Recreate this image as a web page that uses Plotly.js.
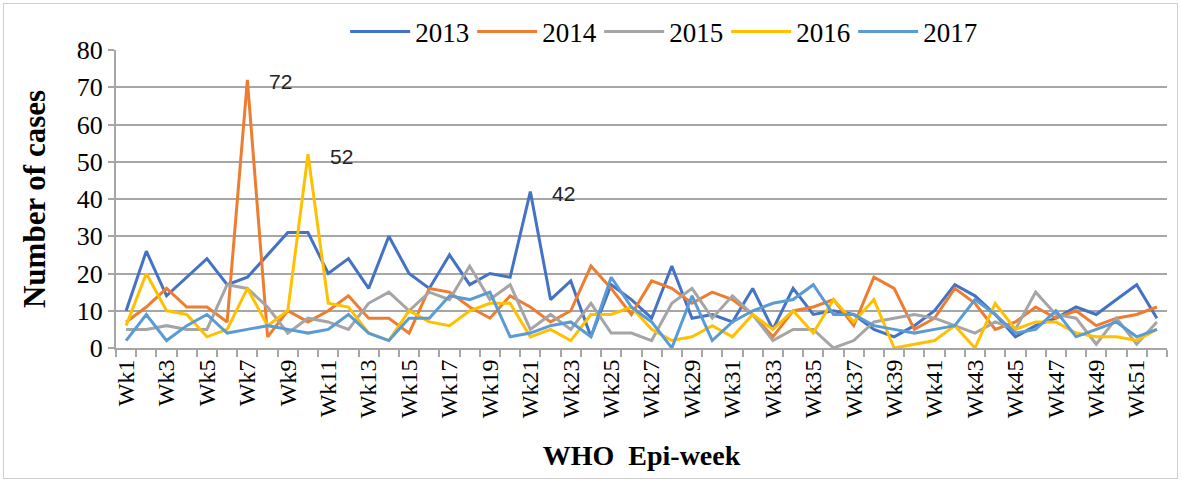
<!DOCTYPE html>
<html>
<head>
<meta charset="utf-8">
<script src="https://cdn.plot.ly/plotly-3.0.1.min.js"></script>
<style>
  html, body { margin: 0; padding: 0; background: #fff; }
  #wrap { position: relative; width: 1182px; height: 484px; }
  #chart { width: 1182px; height: 484px; }
  #frame { position: absolute; left: 3px; top: 3px; width: 1173px; height: 474px;
           border: 1.5px solid #cfcfcf; pointer-events: none; }
</style>
</head>
<body>
<div id="wrap">
  <div id="chart"></div>
  <div id="frame"></div>
</div>
<script>
const weeks = ['Wk1','Wk2','Wk3','Wk4','Wk5','Wk6','Wk7','Wk8','Wk9','Wk10',
  'Wk11','Wk12','Wk13','Wk14','Wk15','Wk16','Wk17','Wk18','Wk19','Wk20',
  'Wk21','Wk22','Wk23','Wk24','Wk25','Wk26','Wk27','Wk28','Wk29','Wk30',
  'Wk31','Wk32','Wk33','Wk34','Wk35','Wk36','Wk37','Wk38','Wk39','Wk40',
  'Wk41','Wk42','Wk43','Wk44','Wk45','Wk46','Wk47','Wk48','Wk49','Wk50',
  'Wk51','Wk52'];

const y2013 = [10,26,14,19,24,17,19,25,31,31,20,24,16,30,20,16,25,17,20,19,42,13,18,3,17,13,8,22,8,9,7,16,5,16,9,10,9,5,3,6,10,17,14,9,3,6,8,11,9,13,17,8];
const y2014 = [7,11,16,11,11,7,72,3,10,7,10,14,8,8,4,16,15,11,8,14,11,7,10,22,16,9,18,16,12,15,13,9,3,10,11,13,6,19,16,5,8,16,12,5,7,11,8,10,6,8,9,11];
const y2015 = [5,5,6,5,5,17,16,11,4,8,7,5,12,15,10,15,13,22,13,17,5,9,5,12,4,4,2,12,16,8,14,9,2,5,5,0,2,7,8,9,8,6,4,7,5,15,9,8,1,8,1,7];
const y2016 = [6,20,10,9,3,5,16,6,10,52,12,11,4,2,10,7,6,10,12,12,3,5,2,9,9,11,5,2,3,6,3,9,5,10,4,13,7,13,0,1,2,6,0,12,5,7,7,4,3,3,2,5];
const y2017 = [2,9,2,6,9,4,5,6,5,4,5,9,4,2,8,8,14,13,15,3,4,6,7,3,19,11,7,0,14,2,7,10,12,13,17,9,9,6,5,4,5,6,13,9,4,5,10,3,5,7,3,5];

const seriesNames = ['2013','2014','2015','2016','2017'];
const seriesData = [y2013, y2014, y2015, y2016, y2017];
const seriesColors = ['#4472C4','#ED7D31','#A5A5A5','#FFC000','#5B9BD5'];

// series whose peak carries a value label
const labelledSeries = [1, 3, 0];

const tickLabels = weeks.map((w, i) => (i % 2 === 0 ? w : ''));

const traces = seriesData.map((d, i) => ({
  type: 'scatter',
  mode: 'lines',
  name: seriesNames[i],
  x: weeks,
  y: d,
  line: { color: seriesColors[i], width: 3 },
  hoverinfo: 'x+y+name'
}));

const annotations = labelledSeries.map(si => {
  const d = seriesData[si];
  const m = Math.max(...d);
  const idx = d.indexOf(m);
  return {
    x: weeks[idx], y: m, xref: 'x', yref: 'y',
    text: String(m), showarrow: false,
    xanchor: 'left', yanchor: 'middle', xshift: 20, yshift: -2,
    font: { family: 'Liberation Sans, Arial, sans-serif', size: 21, color: '#222' }
  };
});

const serif = 'Liberation Serif, Times New Roman, serif';

const layout = {
  width: 1182, height: 484,
  margin: { l: 116, r: 15, t: 50, b: 136, autoexpand: false },
  paper_bgcolor: '#ffffff',
  plot_bgcolor: '#ffffff',
  showlegend: true,
  legend: {
    orientation: 'h',
    xref: 'container', yref: 'container',
    x: 0.292, xanchor: 'left', y: 0.934, yanchor: 'middle',
    font: { family: serif, size: 27, color: '#000' },
    entrywidth: 52, entrywidthmode: 'pixels',
    itemwidth: 60, tracegroupgap: 0
  },
  xaxis: {
    type: 'category',
    range: [-0.5, 51.5],
    tickmode: 'array', tickvals: weeks, ticktext: tickLabels,
    tickson: 'boundaries',
    ticks: 'outside', ticklen: 7, tickcolor: '#a6a6a6', tickwidth: 1.5,
    tickangle: -90,
    tickfont: { family: serif, size: 24, color: '#000' },
    showline: true, linecolor: '#a6a6a6', linewidth: 2,
    showgrid: false, zeroline: false,
    title: { text: '<b>WHO  Epi-week</b>', font: { family: serif, size: 28, color: '#000' }, standoff: 28 },
    fixedrange: true
  },
  yaxis: {
    range: [0, 80], dtick: 10, tick0: 0,
    ticks: 'outside', ticklen: 6, tickcolor: '#a6a6a6', tickwidth: 2,
    tickfont: { family: serif, size: 26, color: '#000' },
    showgrid: true, gridcolor: '#a6a6a6', gridwidth: 2,
    showline: true, linecolor: '#a6a6a6', linewidth: 2,
    zeroline: false,
    title: { text: '<b>Number of cases</b>', font: { family: serif, size: 31, color: '#000' }, standoff: 22 },
    fixedrange: true
  },
  annotations: annotations
};

Plotly.newPlot('chart', traces, layout, { displayModeBar: false });
</script>
</body>
</html>
